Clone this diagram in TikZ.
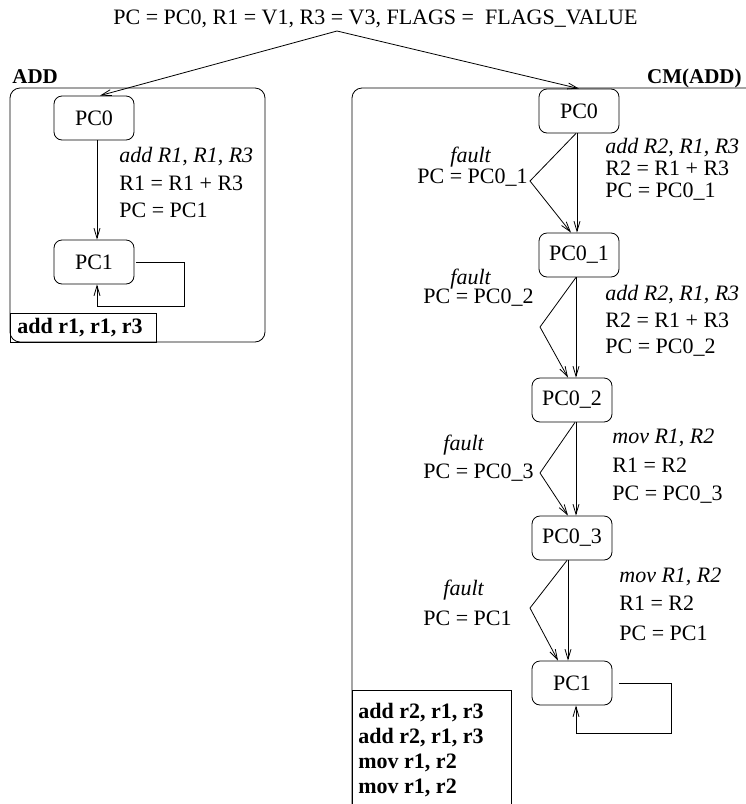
\documentclass[tikz,border=0pt]{standalone}
\usepackage{fontspec}
\setmainfont{Liberation Serif}
\usetikzlibrary{arrows.meta}
\tikzset{
  state/.style={draw, rounded corners=8pt, minimum width=80pt, minimum height=44pt, inner sep=0pt},
  txt/.style={anchor=base west, inner sep=0pt},
  trans/.style={-{Straight Barb[length=10pt,width=6pt]}},
}
\begin{document}
\begin{tikzpicture}[x=1pt, y=-1pt, line width=0.8pt, font=\fontsize{22}{26}\selectfont]
    \useasboundingbox (0,0) rectangle (746,804);
    \clip (0,0) rectangle (746,804);
    % initial state
    \node[txt] (init) at (113,24) {PC = PC0, R1 = V1, R3 = V3, FLAGS = \ FLAGS\_VALUE};
    \coordinate (split) at (337,31);
    % ADD
    \node[txt, font=\bfseries\fontsize{21}{25}\selectfont] (addname) at (12,83) {ADD};
    \draw[rounded corners=10pt] (10,88) rectangle (265,342);
    \node[state] (lpc0) at (94,118) {PC0};
    \node[state] (lpc1) at (94,262) {PC1};
    \node[txt] (la1) at (119,162) {\textit{add R1, R1, R3}};
    \node[txt] (la2) at (119,190) {R1 = R1 + R3};
    \node[txt] (la3) at (119,217) {PC = PC1};
    \draw (10,313) rectangle (156,342);
    \node[txt] (lcode) at (17,333) {\textbf{add r1, r1, r3}};
    \draw[trans] ([xshift=3pt]lpc0.south) -- ([xshift=3pt]lpc1.north);
    \draw[trans] ([xshift=2pt]lpc1.east) -- ++(48,0) -- ++(0,44) -| ([xshift=3pt]lpc1.south);
    % CM(ADD)
    \node[txt, anchor=base east, font=\bfseries\fontsize{21}{25}\selectfont] (cmname) at (742,83) {CM(ADD)};
    \draw[rounded corners=10pt] (352,88) rectangle (800,840);
    \node[state] (rpc0) at (579,111) {PC0};
    \node[state] (rpc01) at (579,255) {PC0\_1};
    \node[state] (rpc02) at (572,400) {PC0\_2};
    \node[state] (rpc03) at (572,538) {PC0\_3};
    \node[state] (rpc1) at (572,683) {PC1};
    \coordinate (f1) at (530,181);
    \coordinate (f2) at (540,327);
    \coordinate (f3) at (540,473);
    \coordinate (f4) at (530,608);
    % normal steps
    \draw[trans] ([xshift=-2pt]rpc0.south) -- ([xshift=-2pt]rpc01.north);
    \draw[trans] ([xshift=-3pt]rpc01.south) -- ([xshift=4pt]rpc02.north);
    \draw[trans] ([xshift=4pt]rpc02.south) -- ([xshift=4pt]rpc03.north);
    \draw[trans] ([xshift=-4pt]rpc03.south) -- ([xshift=-4pt]rpc1.north);
    \draw[trans] ([xshift=7pt]rpc1.east) -- ++(52,0) -- ++(0,50) -| ([xshift=4pt]rpc1.south);
    % faults
    \draw[trans] ([xshift=-3pt]rpc0.south) -- (f1) -- ([xshift=-8pt]rpc01.north);
    \draw[trans] ([xshift=-3pt]rpc01.south) -- (f2) -- ([xshift=-4pt]rpc02.north);
    \draw[trans] ([xshift=3pt]rpc02.south) -- (f3) -- ([xshift=-4pt]rpc03.north);
    \draw[trans] ([xshift=-5pt]rpc03.south) -- (f4) -- ([xshift=-14pt]rpc1.north);
    \node[txt] (fa1) at (450,162) {\textit{fault}};
    \node[txt] (fb1) at (417,183) {PC = PC0\_1};
    \node[txt] (fa2) at (450,284) {\textit{fault}};
    \node[txt] (fb2) at (423,303) {PC = PC0\_2};
    \node[txt] (fa3) at (443,450) {\textit{fault}};
    \node[txt] (fb3) at (423,478) {PC = PC0\_3};
    \node[txt] (fa4) at (443,595) {\textit{fault}};
    \node[txt] (fb4) at (423,625) {PC = PC1};
    % instructions
    \node[txt] (ra1) at (605,153) {\textit{add R2, R1, R3}};
    \node[txt] (ra2) at (605,175) {R2 = R1 + R3};
    \node[txt] (ra3) at (605,197) {PC = PC0\_1};
    \node[txt] (rb1) at (605,300) {\textit{add R2, R1, R3}};
    \node[txt] (rb2) at (605,327) {R2 = R1 + R3};
    \node[txt] (rb3) at (605,353) {PC = PC0\_2};
    \node[txt] (rc1) at (612,443) {\textit{mov R1, R2}};
    \node[txt] (rc2) at (612,472) {R1 = R2};
    \node[txt] (rc3) at (612,500) {PC = PC0\_3};
    \node[txt] (rd1) at (619,582) {\textit{mov R1, R2}};
    \node[txt] (rd2) at (619,610) {R1 = R2};
    \node[txt] (rd3) at (619,640) {PC = PC1};
    \draw (352,690) rectangle (511,840);
    \node[txt] (rcode1) at (358,718) {\textbf{add r2, r1, r3}};
    \node[txt] (rcode2) at (358,743) {\textbf{add r2, r1, r3}};
    \node[txt] (rcode3) at (358,768) {\textbf{mov r1, r2}};
    \node[txt] (rcode4) at (358,793) {\textbf{mov r1, r2}};
    % split to both programs
    \draw[trans] (split) -- ([xshift=6pt]lpc0.north);
    \draw[trans] (split) -- (rpc0.north);
\end{tikzpicture}
\end{document}
